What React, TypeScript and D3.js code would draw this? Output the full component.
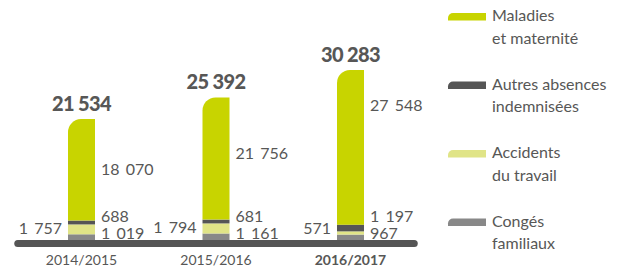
import * as d3 from "d3";

const categories = ["2014/2015", "2015/2016", "2016/2017"];
const maladies = [18070, 21756, 27548];
const autres = [688, 681, 1197];
const accidents = [1757, 1794, 571];
const conges = [1019, 1161, 967];

const seriesKeys = ["conges", "accidents", "autres", "maladies"];
const seriesColors: Record<string, string> = {
  maladies: "#c8d400",
  autres: "#555555",
  accidents: "#e0e487",
  conges: "#888888",
};
const legendItems = [
  { key: "maladies", lines: ["Maladies", "et maternité"] },
  { key: "autres", lines: ["Autres absences", "indemnisées"] },
  { key: "accidents", lines: ["Accidents", "du travail"] },
  { key: "conges", lines: ["Congés", "familiaux"] },
];

// petits décalages de mise en page pour le libellé vert
const greenLabelNudge = [5, 0, -36];

const W = 619;
const H = 268;
const FONT = "Lato, 'Open Sans', sans-serif";
const TEXT = "#575756";

const fmt = (v: number) => d3.format(",")(v).replace(/,/g, " ");

// barre avec coin supérieur gauche arrondi
const topLeftRounded = (x: number, y: number, w: number, h: number, r: number) => {
  const rr = Math.min(r, h, w);
  return `M${x},${y + h}V${y + rr}A${rr},${rr} 0 0 1 ${x + rr},${y}H${x + w}V${y + h}Z`;
};

const App = () => {
  const table = categories.map((c, i) => ({
    cat: c,
    conges: conges[i],
    accidents: accidents[i],
    autres: autres[i],
    maladies: maladies[i],
  }));
  const totals = table.map((d) => d.conges + d.accidents + d.autres + d.maladies);

  const stack = d3.stack<any>().keys(seriesKeys)(table);

  const x = d3.scalePoint().domain(categories).range([81.5, 350.5]);
  const barW = 27;
  const y = d3.scaleLinear().domain([0, 30283]).range([240, 70]);

  const step = x.step();
  const axisLeft = (x(categories[0]) as number) - step / 2;
  const axisRight = (x(categories[categories.length - 1]) as number) + step / 2;

  const layer = (k: string) => stack.find((s) => s.key === k)!;

  return (
    <svg width={W} height={H} style={{ position: "absolute", left: 0, top: 0 }} fontFamily={FONT}>
      <rect x={0} y={0} width={W} height={H} fill="#ffffff" />

      {/* barres empilées */}
      {stack.map((s) =>
        s.map((d, i) => {
          const cx = x(categories[i]) as number;
          const y0 = y(d[0]);
          const y1 = y(d[1]);
          if (s.key === "maladies") {
            return (
              <path key={s.key + i} d={topLeftRounded(cx - barW / 2, y1, barW, y0 - y1, 13)} fill={seriesColors[s.key]} />
            );
          }
          return (
            <rect key={s.key + i} x={cx - barW / 2} y={y1} width={barW} height={y0 - y1} fill={seriesColors[s.key]} />
          );
        })
      )}

      {/* axe */}
      <rect x={axisLeft} y={y(0)} width={axisRight - axisLeft} height={7} rx={3.5} fill="#555555" />

      {/* catégories */}
      {categories.map((c, i) => (
        <text
          key={c}
          x={x(c)}
          y={265}
          textAnchor="middle"
          fontSize={14}
          fontWeight={i === categories.length - 1 ? 700 : 400}
          fill={TEXT}
        >
          {c}
        </text>
      ))}

      {/* totaux */}
      {categories.map((c, i) => (
        <text key={"t" + c} x={x(c)} y={y(totals[i]) - 8} textAnchor="middle" fontSize={20} fontWeight={900} letterSpacing={-0.6} fill={TEXT}>
          {fmt(totals[i])}
        </text>
      ))}

      {/* valeurs */}
      {categories.map((c, i) => {
        const cx = x(c) as number;
        const m = layer("maladies")[i];
        const a = layer("autres")[i];
        const ac = layer("accidents")[i];
        return (
          <g key={"v" + c} fontSize={16} fill={TEXT} wordSpacing={2}>
            <text x={cx + barW / 2 + 6} y={(y(m[0]) + y(m[1])) / 2 + greenLabelNudge[i]}>
              {fmt(maladies[i])}
            </text>
            <text x={cx + barW / 2 + 6} y={Math.min(y(a[1]) + 2, y(0) - 18)}>
              {fmt(autres[i])}
            </text>
            <text x={cx + barW / 2 + 6} y={y(0) - 1}>
              {fmt(conges[i])}
            </text>
            <text x={cx - barW / 2 - 6} y={Math.min((y(ac[0]) + y(ac[1])) / 2 + 5, y(0) - 6)} textAnchor="end">
              {fmt(accidents[i])}
            </text>
          </g>
        );
      })}

      {/* légende */}
      {legendItems.map((it, i) => {
        const top = 13 + i * 68.5;
        return (
          <g key={it.key}>
            <path d={topLeftRounded(448, top, 38, 7.5, 5)} fill={seriesColors[it.key]} />
            {it.lines.map((l, j) => (
              <text key={l} x={492} y={top + 8 + j * 22.5} fontSize={16} fill={TEXT}>
                {l}
              </text>
            ))}
          </g>
        );
      })}
    </svg>
  );
};

export default App;
